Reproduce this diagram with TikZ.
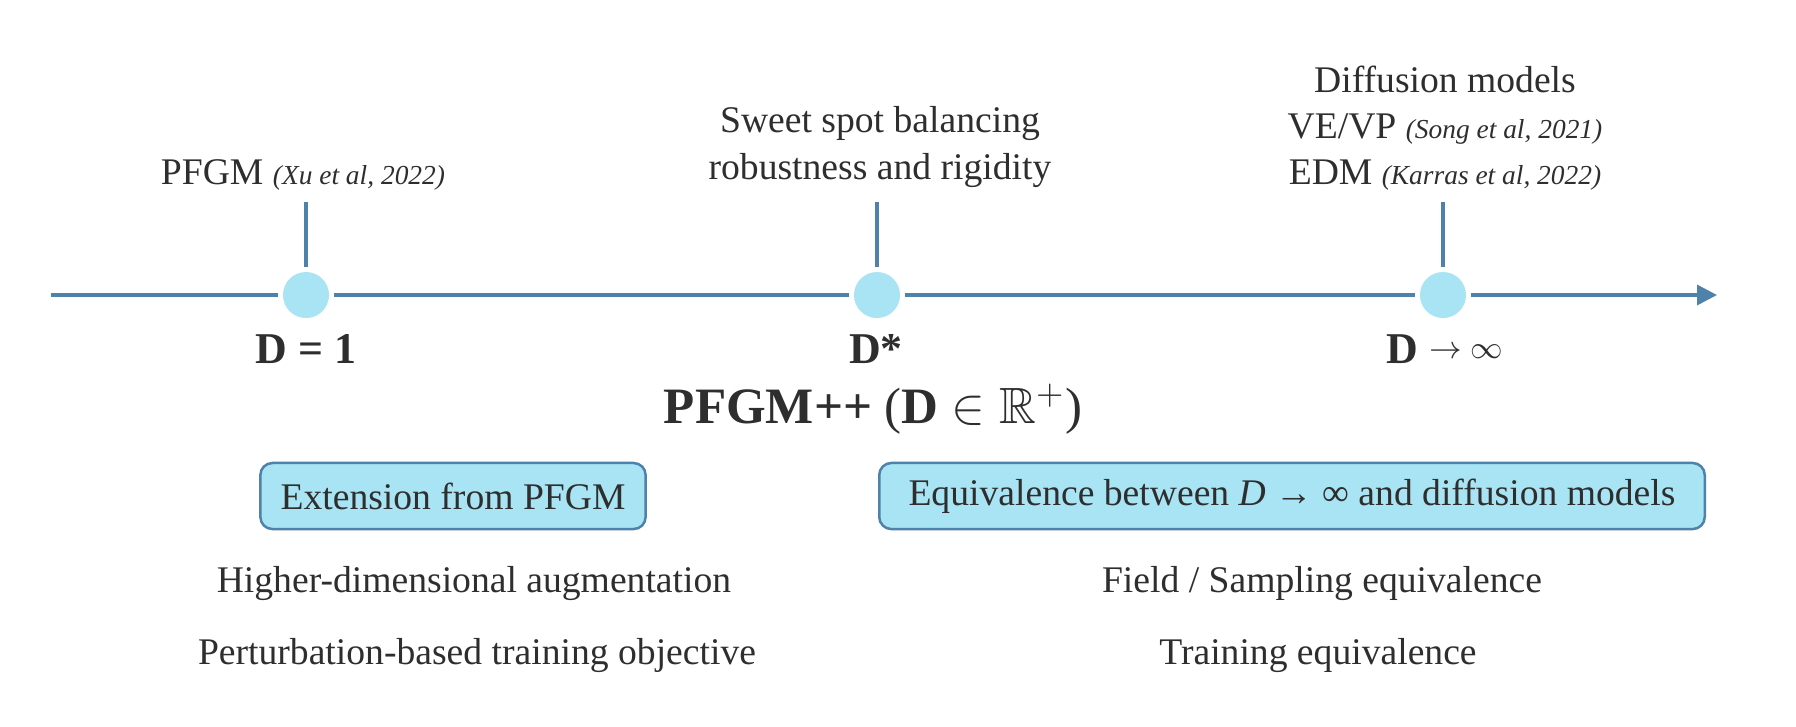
\documentclass[tikz,border=0pt]{standalone}
\usepackage{fontspec}
\setmainfont{Liberation Serif}
\usepackage{amssymb}
\usetikzlibrary{arrows.meta}
\definecolor{axisblue}{HTML}{4F82AA}
\definecolor{dotcyan}{HTML}{A8E4F3}
\definecolor{inkgray}{HTML}{2E2E2E}
\tikzset{
  txt/.style={text=inkgray, font=\fontsize{10.7}{13.1}\selectfont, align=center, inner sep=0pt},
  dlabel/.style={txt, font=\fontsize{12.5}{15}\selectfont\bfseries},
  dot/.style={circle, fill=dotcyan, minimum size=0.46cm, inner sep=0pt, outer sep=0.05cm},
  axisline/.style={draw=axisblue, line width=0.035cm},
  topic/.style={txt, draw=axisblue, fill=dotcyan, line width=0.025cm, rounded corners=0.12cm,
    minimum height=0.66cm}
}
\newcommand{\cit}[1]{{\fontsize{7.8}{9}\selectfont\itshape(#1)}}
\begin{document}
\begin{tikzpicture}[x=0.01cm, y=-0.01cm]
  \useasboundingbox (0,0) rectangle (1796,726);
  \coordinate (ax0) at (51,295);
  \coordinate (ax1) at (1717,295);
  \coordinate (t1) at (306,202);
  \coordinate (t2) at (877,202);
  \coordinate (t3) at (1443,202);
  \node[dot] (c1) at (306,295) {};
  \node[dot] (c2) at (877,295) {};
  \node[dot] (c3) at (1443,295) {};
  \node[txt] (top1) at (303,175) {PFGM \cit{Xu et al, 2022}};
  \node[txt] (top2) at (880,147) {Sweet spot balancing\\robustness and rigidity};
  \node[txt] (top3) at (1445,128) {Diffusion models\\VE/VP \cit{Song et al, 2021}\\EDM \cit{Karras et al, 2022}};
  \node[dlabel] (l1) at (306,349) {D = 1};
  \node[dlabel] (l2) at (876,349) {D*};
  \node[dlabel] (l3) at (1445,349) {D \raisebox{0.1em}{\fontsize{9.5}{11}\selectfont$\rightarrow\infty$}};
  \node[txt, font=\fontsize{14.5}{17}\selectfont] (title) at (873,409)
    {\textbf{PFGM++} (\textbf{D} $\in\mathbb{R}^{+}$)};
  \node[topic, minimum width=3.85cm] (b1) at (453,496) {Extension from PFGM};
  \node[topic, minimum width=8.25cm] (b2) at (1292,496) {Equivalence between \textit{D} → ∞ and diffusion models};
  \node[txt] (i1) at (474,583) {Higher-dimensional augmentation};
  \node[txt] (i2) at (477,655) {Perturbation-based training objective};
  \node[txt] (i3) at (1322,583) {Field / Sampling equivalence};
  \node[txt] (i4) at (1318,655) {Training equivalence};
  \begin{scope}[axisline]
    \draw[-{Triangle[length=0.2cm, width=0.2cm]}] (ax0) -- (c1) -- (c2) -- (c3) -- (ax1);
    \draw (t1) -- (c1);
    \draw (t2) -- (c2);
    \draw (t3) -- (c3);
  \end{scope}
\end{tikzpicture}
\end{document}
